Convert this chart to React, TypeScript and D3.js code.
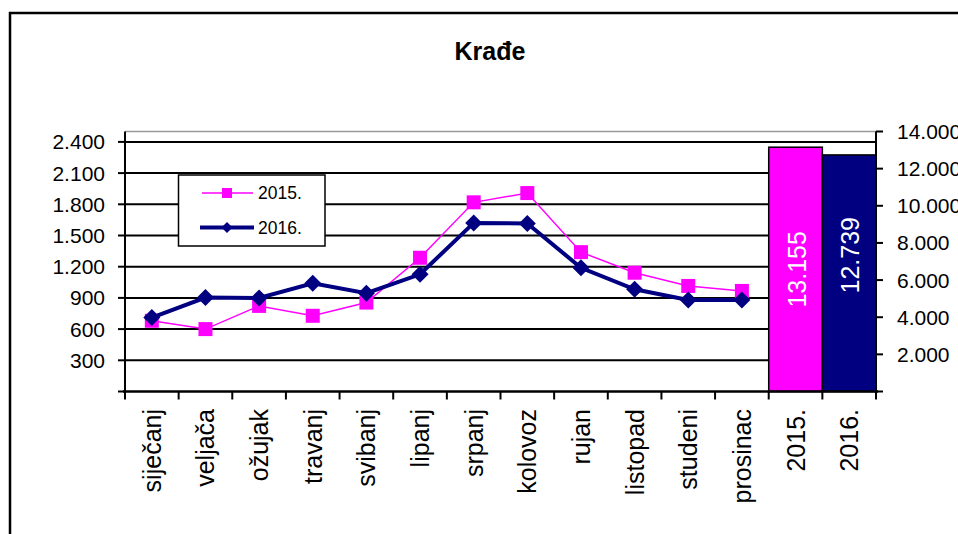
import React from "react";
import * as d3 from "d3";

const months = ["siječanj", "veljača", "ožujak", "travanj", "svibanj", "lipanj", "srpanj", "kolovoz", "rujan", "listopad", "studeni", "prosinac"];
const totalsLabels = ["2015.", "2016."];
const series2015 = [680, 600, 823, 728, 855, 1286, 1819, 1908, 1340, 1142, 1015, 967];
const series2016 = [711, 903, 900, 1041, 945, 1127, 1621, 1615, 1190, 983, 881, 881];
const totals = [13155, 12739];
const leftTicks = [0, 300, 600, 900, 1200, 1500, 1800, 2100, 2400];
const rightTicks = [0, 2000, 4000, 6000, 8000, 10000, 12000, 14000];

const MAGENTA = "#ff00ff";
const NAVY = "#000080";
const FONT = "'Liberation Sans', Arial, sans-serif";

const locale = d3.formatLocale({ decimal: ",", thousands: ".", grouping: [3], currency: ["", " kn"] });
const fmt = locale.format(",d");
const fmt3 = locale.format(",.3f");

export default function App() {
  const width = 958;
  const height = 534;
  const left = 125;
  const right = 876;
  const top = 131.5;
  const bottom = 391.5;

  const cats = [...months, ...totalsLabels];
  const x = d3.scaleBand().domain(cats).range([left, right]);
  const yL = d3.scaleLinear().domain([0, 2500]).range([bottom, top]);
  const yR = d3.scaleLinear().domain([0, 14000]).range([bottom, top]);
  const cx = (c: string) => (x(c) as number) + x.bandwidth() / 2;

  const line2015 = d3.line<number>().x((_, i) => cx(months[i])).y(d => yL(d));
  const line2016 = d3.line<number>().x((_, i) => cx(months[i])).y(d => yL(d));

  const diamond = (px: number, py: number, r: number) =>
    `M${px},${py - r}L${px + r},${py}L${px},${py + r}L${px - r},${py}Z`;

  return (
    <svg width={width} height={height} style={{ position: "absolute", left: 0, top: 0, background: "#fff" }} fontFamily={FONT}>
      {/* outer chart frame */}
      <rect x={10} y={13} width={980} height={560} fill="#fff" stroke="#000" strokeWidth={2.5} />

      <text x={490} y={60} textAnchor="middle" fontSize={25} fontWeight="bold">Krađe</text>

      {/* plot top border */}
      <line x1={left} x2={right} y1={top} y2={top} stroke="#999" strokeWidth={1.5} />

      {/* gridlines */}
      {leftTicks.filter(t => t > 0).map(t => (
        <line key={t} x1={left} x2={right} y1={yL(t)} y2={yL(t)} stroke="#000" strokeWidth={2} />
      ))}

      {/* total bars */}
      {totals.map((v, i) => (
        <g key={totalsLabels[i]}>
          <rect x={x(totalsLabels[i])} y={yR(v)} width={x.bandwidth()} height={bottom - yR(v)}
            fill={i === 0 ? MAGENTA : NAVY} stroke="#000" strokeWidth={1.5} />
          <text transform={`translate(${cx(totalsLabels[i]) + 1},${(yR(v) + bottom) / 2 - (i === 0 ? 0 : 18)}) rotate(-90)`}
            textAnchor="middle" dominantBaseline="central" fill="#fff" fontSize={25}>
            {fmt3(v / 1000).replace(",", ".")}
          </text>
        </g>
      ))}

      {/* left axis */}
      <line x1={left} x2={left} y1={top} y2={bottom} stroke="#000" strokeWidth={2} />
      {leftTicks.map(t => (
        <g key={t}>
          <line x1={left - 7} x2={left} y1={yL(t)} y2={yL(t)} stroke="#000" strokeWidth={2} />
          {t > 0 && (
            <text x={105} y={yL(t)} textAnchor="end" dominantBaseline="central" fontSize={21}>{fmt(t)}</text>
          )}
        </g>
      ))}

      {/* right axis */}
      <line x1={right} x2={right} y1={top} y2={bottom} stroke="#000" strokeWidth={2} />
      {rightTicks.map(t => (
        <g key={t}>
          <line x1={right} x2={right + 7} y1={yR(t)} y2={yR(t)} stroke="#000" strokeWidth={2} />
          {t > 0 && (
            <text x={897} y={yR(t)} dominantBaseline="central" fontSize={21}>{fmt(t)}</text>
          )}
        </g>
      ))}

      {/* category axis */}
      <line x1={left - 2} x2={right + 2} y1={bottom} y2={bottom} stroke="#000" strokeWidth={2.5} />
      {cats.map(c => (
        <line key={c} x1={x(c)} x2={x(c)} y1={bottom} y2={bottom + 8} stroke="#000" strokeWidth={2} />
      ))}
      <line x1={right} x2={right} y1={bottom} y2={bottom + 8} stroke="#000" strokeWidth={2} />
      {cats.map(c => (
        <text key={c} transform={`translate(${cx(c)},409) rotate(-90)`} textAnchor="end"
          dominantBaseline="central" fontSize={25}>{c}</text>
      ))}

      {/* 2015 series */}
      <path d={line2015(series2015) || ""} fill="none" stroke={MAGENTA} strokeWidth={1.5} />
      {series2015.map((v, i) => (
        <rect key={i} x={cx(months[i]) - 7} y={yL(v) - 7} width={14} height={14} fill={MAGENTA} />
      ))}

      {/* 2016 series */}
      <path d={line2016(series2016) || ""} fill="none" stroke={NAVY} strokeWidth={4} />
      {series2016.map((v, i) => (
        <path key={i} d={diamond(cx(months[i]), yL(v), 8.5)} fill={NAVY} />
      ))}

      {/* legend */}
      <rect x={178.5} y={175} width={146.5} height={71} fill="#fff" stroke="#000" strokeWidth={1.5} />
      <line x1={202} x2={253} y1={193} y2={193} stroke={MAGENTA} strokeWidth={1.5} />
      <rect x={222} y={188} width={10} height={10} fill={MAGENTA} />
      <text x={258} y={193} dominantBaseline="central" fontSize={17.5}>{totalsLabels[0]}</text>
      <line x1={200} x2={254} y1={227.5} y2={227.5} stroke={NAVY} strokeWidth={4} />
      <path d={diamond(227, 227.5, 5.5)} fill={NAVY} />
      <text x={258} y={228} dominantBaseline="central" fontSize={17.5}>{totalsLabels[1]}</text>
    </svg>
  );
}
